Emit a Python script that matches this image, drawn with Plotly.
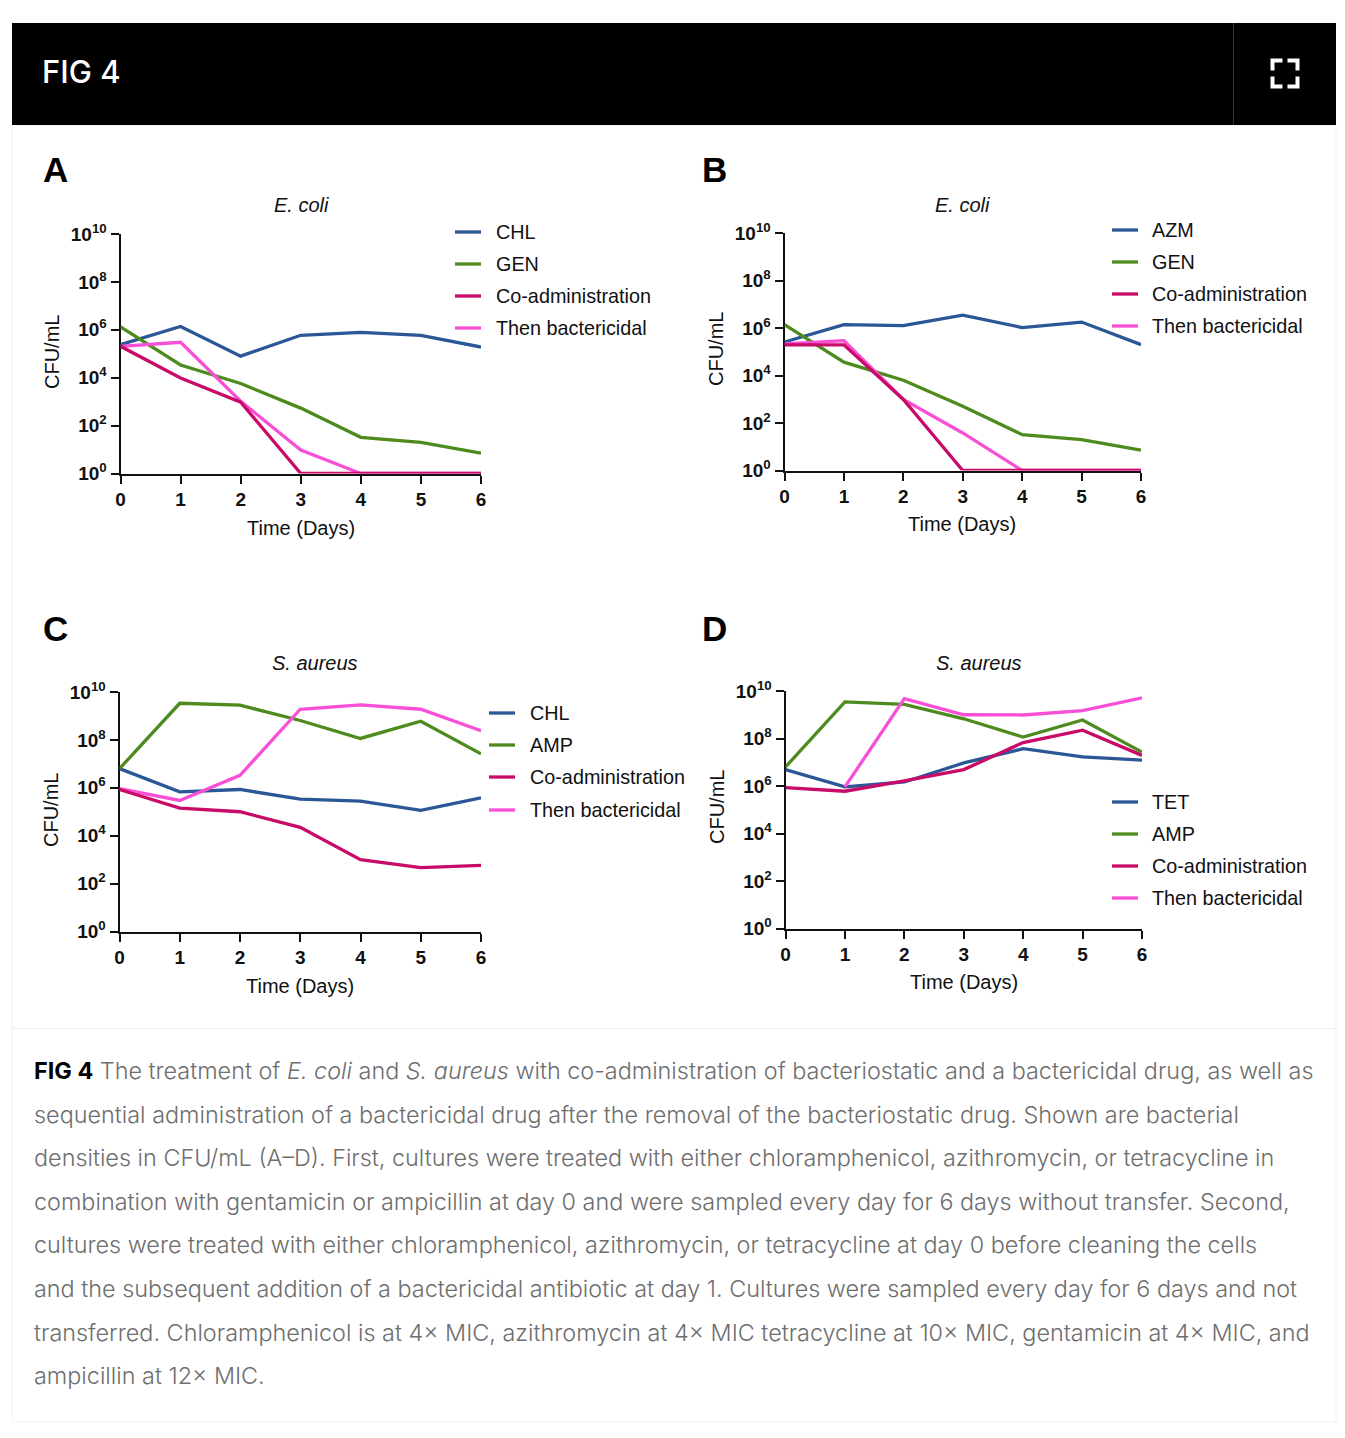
import plotly.graph_objects as go

days = [0, 1, 2, 3, 4, 5, 6]
# log10(CFU/mL)
a_chl = [5.38, 6.14, 4.90, 5.77, 5.89, 5.77, 5.28]
a_gen = [6.12, 4.53, 3.76, 2.73, 1.51, 1.30, 0.85]
a_co = [5.31, 3.99, 2.98, 0, 0, 0, 0]
a_then = [5.31, 5.48, 3.02, 0.98, 0, 0, 0]
b_azm = [5.41, 6.14, 6.10, 6.54, 6.02, 6.25, 5.30]
b_gen = [6.14, 4.56, 3.80, 2.71, 1.51, 1.30, 0.86]
b_co = [5.29, 5.29, 2.99, 0, 0, 0, 0]
b_then = [5.33, 5.47, 2.99, 1.58, 0, 0, 0]
c_chl = [6.80, 5.83, 5.93, 5.53, 5.44, 5.06, 5.58]
c_amp = [6.80, 9.53, 9.45, 8.81, 8.06, 8.78, 7.42]
c_co = [5.93, 5.15, 5.00, 4.35, 3.00, 2.67, 2.76]
c_then = [5.97, 5.47, 6.52, 9.28, 9.46, 9.28, 8.38]
d_tet = [6.69, 5.96, 6.17, 6.97, 7.57, 7.23, 7.09]
d_amp = [6.80, 9.54, 9.44, 8.83, 8.06, 8.78, 7.43]
d_co = [5.93, 5.78, 6.22, 6.69, 7.83, 8.35, 7.29]
d_then = [None, 5.96, 9.68, 9.00, 8.99, 9.17, 9.71]

names_a = ["CHL", "GEN", "Co-administration", "Then bactericidal"]
names_b = ["AZM", "GEN", "Co-administration", "Then bactericidal"]
names_c = ["CHL", "AMP", "Co-administration", "Then bactericidal"]
names_d = ["TET", "AMP", "Co-administration", "Then bactericidal"]
y_ticks = [0, 2, 4, 6, 8, 10]
y_tick_text = ["10<sup>0</sup>", "10<sup>2</sup>", "10<sup>4</sup>", "10<sup>6</sup>", "10<sup>8</sup>", "10<sup>10</sup>"]
colors = ["#2B5797", "#4E8B1F", "#C80A68", "#F94FD6"]
draw_order = [0, 1, 3, 2]

caption = [
    '<b><span style="color:#000">FIG 4</span></b> The treatment of <i>E. coli</i> and <i>S. aureus</i> with co-administration of bacteriostatic and a bactericidal drug, as well as',
    "sequential administration of a bactericidal drug after the removal of the bacteriostatic drug. Shown are bacterial",
    "densities in CFU/mL (A–D). First, cultures were treated with either chloramphenicol, azithromycin, or tetracycline in",
    "combination with gentamicin or ampicillin at day 0 and were sampled every day for 6 days without transfer. Second,",
    "cultures were treated with either chloramphenicol, azithromycin, or tetracycline at day 0 before cleaning the cells",
    "and the subsequent addition of a bactericidal antibiotic at day 1. Cultures were sampled every day for 6 days and not",
    "transferred. Chloramphenicol is at 4× MIC, azithromycin at 4× MIC tetracycline at 10× MIC, gentamicin at 4× MIC, and",
    "ampicillin at 12× MIC.",
]
caption_y = [1070, 1114, 1157, 1201, 1244, 1288, 1332, 1375]

W, H, OFF = 1329, 1422, 8
def px(x): return (x - OFF) / W
def py(y): return 1 - (y - OFF) / H

panels = [
    dict(letter="A", lx=55, ly=170, title="E. coli", tx=301, ty=205, x0=120.5, x1=481, ytop=234, ybot=473.5,
         names=names_a, series=[a_chl, a_gen, a_co, a_then], lgx=455, lgt=495, lgy=[232, 264, 296, 328],
         xtx=301, xty=528, ytx=52, yty=352),
    dict(letter="B", lx=714, ly=170, title="E. coli", tx=962, ty=205, x0=784.5, x1=1141, ytop=233, ybot=470.5,
         names=names_b, series=[b_azm, b_gen, b_co, b_then], lgx=1112, lgt=1151, lgy=[230, 262, 294, 326],
         xtx=962, xty=524, ytx=716, yty=349),
    dict(letter="C", lx=55, ly=628, title="S. aureus", tx=315, ty=663, x0=119.5, x1=481, ytop=692, ybot=931.5,
         names=names_c, series=[c_chl, c_amp, c_co, c_then], lgx=489, lgt=529, lgy=[713, 745, 777, 810],
         xtx=300, xty=986, ytx=51, yty=810),
    dict(letter="D", lx=714, ly=628, title="S. aureus", tx=979, ty=663, x0=785.5, x1=1142, ytop=691, ybot=928.5,
         names=names_d, series=[d_tet, d_amp, d_co, d_then], lgx=1112, lgt=1151, lgy=[802, 834, 866, 898],
         xtx=964, xty=982, ytx=717, yty=807),
]

CHART = "Liberation Sans"
fig = go.Figure()
layout = {}
anns = []
shapes = [
    dict(type="rect", xref="paper", yref="paper", x0=px(12), x1=px(1336), y0=py(125), y1=py(1422),
         fillcolor="white", line=dict(color="#F1F1F1", width=1), layer="below"),
    dict(type="rect", xref="paper", yref="paper", x0=px(12), x1=px(1336), y0=py(23), y1=py(125),
         fillcolor="#000000", line=dict(width=0), layer="below"),
    dict(type="line", xref="paper", yref="paper", x0=px(1233.5), x1=px(1233.5), y0=py(23), y1=py(125),
         line=dict(color="#333333", width=1), layer="above"),
    dict(type="line", xref="paper", yref="paper", x0=px(12), x1=px(1336), y0=py(1028.5), y1=py(1028.5),
         line=dict(color="#EEEEEE", width=1), layer="below"),
]
for (cx, cy, dx, dy) in [(1272.5, 60.5, 1, 1), (1297.5, 60.5, -1, 1), (1272.5, 86.5, 1, -1), (1297.5, 86.5, -1, -1)]:
    pts = [(cx + dx * 10, cy), (cx, cy), (cx, cy + dy * 10)]
    path = "M" + " L".join(f"{px(a):.5f},{py(b):.5f}" for a, b in pts)
    shapes.append(dict(type="path", xref="paper", yref="paper", path=path,
                       line=dict(color="white", width=4), layer="above"))

def label(text, x, y, size, color="#111111", family=CHART, xanchor="center", angle=0, weight=None):
    f = dict(family=family, size=size, color=color)
    if weight:
        f["weight"] = weight
    anns.append(dict(text=text, x=px(x), y=py(y), xref="paper", yref="paper", showarrow=False,
                     xanchor=xanchor, yanchor="middle", textangle=angle, font=f, borderpad=0, align="left"))

for i, p in enumerate(panels):
    n = "" if i == 0 else str(i + 1)
    for k in draw_order:
        vals = p["series"][k]
        fig.add_trace(go.Scatter(
            x=days, y=[None if v is None else 10 ** v for v in vals], name=p["names"][k], mode="lines",
            line=dict(color=colors[k], width=3.3), xaxis="x" + n, yaxis="y" + n,
            showlegend=False, cliponaxis=False, hoverinfo="skip"))
    for name, col, ly in zip(p["names"], colors, p["lgy"]):
        shapes.append(dict(type="line", xref="paper", yref="paper", x0=px(p["lgx"]), x1=px(p["lgx"] + 26),
                           y0=py(ly), y1=py(ly), line=dict(color=col, width=3.3), layer="above"))
        label(name, p["lgt"], ly, 19.8, xanchor="left")
    layout["xaxis" + n] = dict(domain=[px(p["x0"]), px(p["x1"])], range=[0, 6], anchor="y" + n,
        tickmode="array", tickvals=days, ticktext=[str(d) for d in days], ticks="outside", ticklen=8, tickwidth=2,
        tickcolor="#111", showline=True, linecolor="#111", linewidth=2, showgrid=False, zeroline=False,
        layer="below traces", tickfont=dict(family=CHART, size=19, color="#111", weight="bold"))
    layout["yaxis" + n] = dict(domain=[py(p["ybot"]), py(p["ytop"])], type="log", range=[0, 10], anchor="x" + n,
        tickmode="array", tickvals=[10 ** k for k in y_ticks], ticktext=y_tick_text, ticks="outside", ticklen=8,
        tickwidth=2, tickcolor="#111", showline=True, linecolor="#111", linewidth=2, showgrid=False, zeroline=False,
        layer="below traces", tickfont=dict(family=CHART, size=19, color="#111", weight="bold"))
    label(p["letter"], p["lx"], p["ly"], 35, color="#000", weight="bold")
    label(f"<i>{p['title']}</i>", p["tx"], p["ty"], 20)
    label("Time (Days)", p["xtx"], p["xty"], 20)
    label("CFU/mL", p["ytx"], p["yty"], 20, angle=-90)

label("FIG 4", 41, 71, 31, color="#FFFFFF", family="Inter", xanchor="left", weight=500)
for line, y in zip(caption, caption_y):
    label(line, 33, y, 23.4, color="#6E6E6E", family="Inter", xanchor="left", weight=300)

fig.update_layout(width=W, height=H, margin=dict(l=0, r=0, t=0, b=0, autoexpand=False), paper_bgcolor="white",
                  plot_bgcolor="rgba(0,0,0,0)", showlegend=False, annotations=anns, shapes=shapes, **layout)
fig.write_html("out.html")
